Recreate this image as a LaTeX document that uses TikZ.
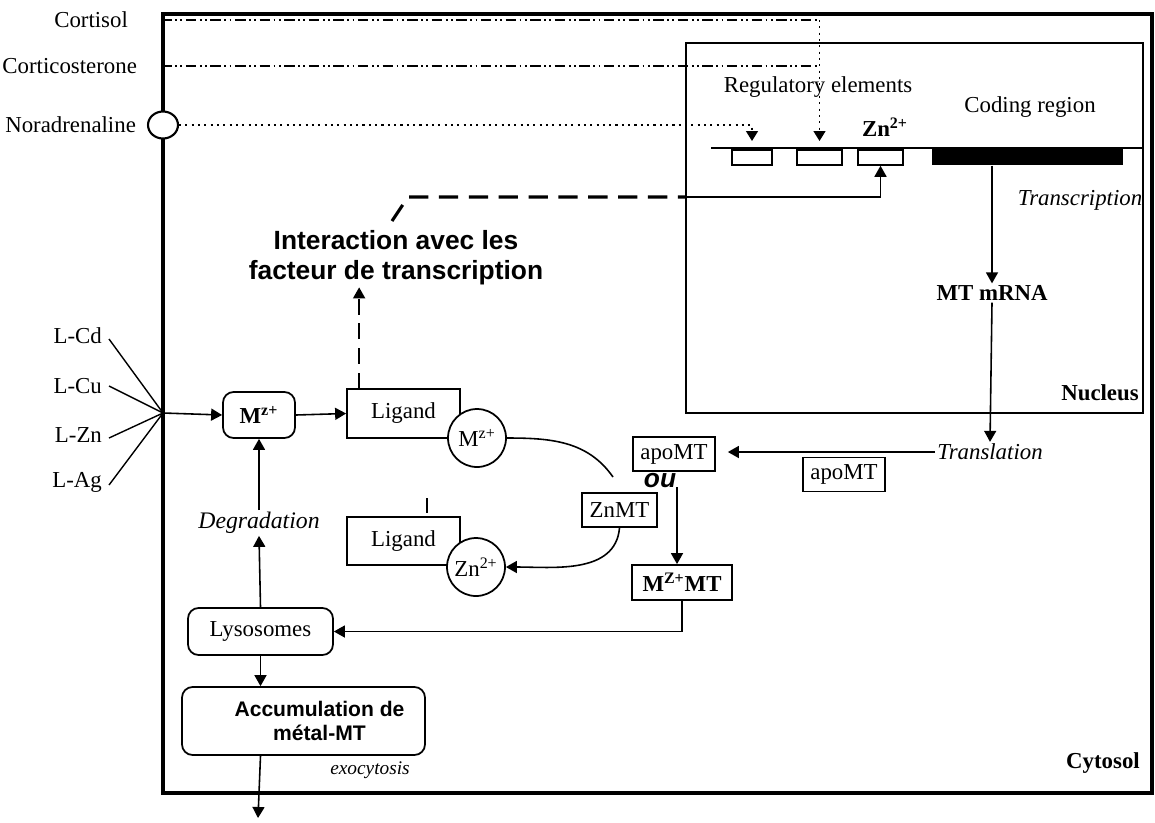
\documentclass[tikz,border=0pt]{standalone}
\usepackage{fontspec}
\setmainfont{Liberation Serif}
\setsansfont{Liberation Sans}
\usetikzlibrary{arrows.meta, positioning, shapes.geometric, calc}
\colorlet{colTrait}{black}
\tikzset{
  boiteBase/.style={
    draw=colTrait, line width=1pt, fill=white, inner sep=2pt, align=center
  },
  boiteArrondie/.style={boiteBase, rounded corners=6pt},
  boiteLigand/.style={boiteBase, minimum width=2.26cm, minimum height=0.97cm},
  boiteMT/.style={boiteBase, minimum height=0.68cm},
  cercleIon/.style={circle, draw=colTrait, line width=1pt, fill=white,
    minimum size=1.16cm, inner sep=0pt},
  elemReg/.style={draw=colTrait, line width=1pt, fill=white, minimum height=0.3cm,
    inner sep=0pt, anchor=north},
  fleche/.style={-{Triangle[length=2.2mm, width=2.4mm]}, line width=0.9pt, colTrait},
  flechePointillee/.style={-{Triangle[length=2.2mm, width=2.4mm]}, line width=0.9pt, colTrait,
    dash pattern=on 9pt off 5pt},
  traitHormone/.style={thick, colTrait,
    dash pattern=on 6pt off 2pt on 1pt off 2pt on 1pt off 2pt},
  traitPointille/.style={thick, colTrait, dash pattern=on 1.2pt off 2.4pt},
  tiretsEpais/.style={line width=1.8pt, colTrait, dash pattern=on 11pt off 6pt},
  etiquette/.style={inner sep=1pt},
  etiquetteIt/.style={inner sep=1pt, font=\fontsize{13}{15}\selectfont\itshape},
  etiquetteGras/.style={inner sep=1pt, font=\fontsize{13}{15}\selectfont\bfseries},
  etiquetteFr/.style={inner sep=1pt, align=center,
    font=\fontsize{15}{17}\selectfont\sffamily\bfseries},
}

\begin{document}
\begin{tikzpicture}[x=0.02cm, y=-0.02cm, font=\fontsize{13}{15}\selectfont]
  \useasboundingbox (0,0) rectangle (1155,822);

  % cellule, noyau et recepteur
  \node[draw=colTrait, line width=2.2pt, minimum width=19.78cm, minimum height=15.58cm, inner sep=0pt] (cellule) at (657.5,403.5) {};
  \node[draw=colTrait, line width=1.1pt, minimum width=9.14cm, minimum height=7.4cm, inner sep=0pt] (noyau) at (914.5,228) {};
  \node[ellipse, draw=colTrait, line width=1.2pt, fill=white, minimum width=0.6cm, minimum height=0.54cm, inner sep=0pt] (recepteur) at (163,125) {};

  % hormones
  \node[etiquette, anchor=east] (cortisol) at (130,20) {Cortisol};
  \node[etiquette, anchor=east] (corticosterone) at (139,66) {Corticosterone};
  \node[etiquette, anchor=east] (noradrenaline) at (138,125) {Noradrenaline};

  % gene MT
  \draw[line width=1.5pt] (711,148) -- (1143,148);
  \node[elemReg, minimum width=0.8cm] (reg1) at (752,149) {};
  \node[elemReg, minimum width=0.9cm] (reg2) at (819.5,149) {};
  \node[elemReg, minimum width=0.9cm] (reg3) at (880.5,149) {};
  \node[fill=colTrait, anchor=north, minimum width=3.82cm, minimum height=0.32cm, inner sep=0pt] (codage) at (1027.5,149) {};
  \node[etiquette] (regulation) at (818,87) {Regulatory elements};
  \node[etiquette] (regionCodante) at (1030,107) {Coding region};
  \node[etiquetteGras] (znNoyau) at (885,127) {Zn\textsuperscript{2+}};
  \node[etiquetteIt] (transcription) at (1080,200) {Transcription};
  \node[etiquetteGras] (arnm) at (992,293) {MT mRNA};
  \node[etiquetteGras] (nucleus) at (1100,393) {Nucleus};
  \node[etiquetteIt] (traduction) at (990,452) {Translation};

  \draw[traitHormone] (cortisol.east -| cellule.west) -- (cortisol.east -| reg2.north);
  \draw[traitHormone] (corticosterone.east -| cellule.west) -- (corticosterone.east -| reg2.north);
  \draw[traitPointille, -{Triangle[length=2mm, width=2.4mm]}, shorten >=1.6mm] (cortisol.east -| reg2.north) -- (reg2.north);
  \draw[traitPointille, -{Triangle[length=2mm, width=2.4mm]}, shorten >=1.6mm] (recepteur.east) -| (reg1.north);

  \draw[fleche] (arnm.north |- codage.south) -- (arnm.north);
  \draw[fleche] (arnm.south) -- (traduction.north);

  % ligands et metal
  \coordinate (entreeL) at (163,413);
  \node[etiquette, anchor=east] (lcd) at (104,336) {L-Cd};
  \node[etiquette, anchor=east] (lcu) at (104,386) {L-Cu};
  \node[etiquette, anchor=east] (lzn) at (104,435) {L-Zn};
  \node[etiquette, anchor=east] (lag) at (104,482) {L-Ag};
  \draw[thick] ([xshift=0.1cm, yshift=-0.06cm]lcd.east) -- (entreeL);
  \draw[thick] ([xshift=0.1cm]lcu.east) -- (entreeL);
  \draw[thick] ([xshift=0.1cm, yshift=-0.06cm]lzn.east) -- (entreeL);
  \draw[thick] ([xshift=0.1cm, yshift=-0.06cm]lag.east) -- (entreeL);

  \node[boiteArrondie, minimum width=1.44cm, minimum height=0.92cm, font=\fontsize{13}{15}\selectfont\bfseries] (metal) at (259,415) {M\textsuperscript{z+}};
  \node[boiteLigand] (ligand) at (403.5,413.5) {Ligand};
  \node[cercleIon] (cercleM) at (477,438) {M\textsuperscript{z+}};
  \node[boiteLigand] (ligandZn) at (403.5,541) {Ligand};
  \node[cercleIon] (cercleZn) at (476,567) {Zn\textsuperscript{2+}};
  \draw[thick] ([xshift=0.47cm, yshift=0.06cm]ligandZn.north) -- ++(0,-15);

  \draw[fleche] (entreeL) -- (metal.west);
  \draw[fleche] (metal.east) -- (ligand.west);

  % facteurs de transcription
  \node[etiquetteFr] (interaction) at (396,258) {Interaction avec les\\facteur de transcription};
  \coordinate (departInteraction) at (392,221);
  \coordinate (coudeInteraction) at (408,197);
  \draw[tiretsEpais] (departInteraction) -- (coudeInteraction) -- (coudeInteraction -| noyau.west);
  \draw[fleche] (coudeInteraction -| noyau.west) -| (reg3.south);
  \draw[flechePointillee] ([xshift=0.26cm]ligand.north west) -- ([xshift=0.26cm]ligand.north west |- interaction.south);

  % metallothioneines
  \node[boiteMT, minimum width=1.64cm] (apoA) at (674,454) {apoMT};
  \node[boiteMT, minimum width=1.64cm] (apoB) at (844,474.5) {apoMT};
  \node[boiteMT, minimum width=1.5cm] (znmt) at (619.5,510) {ZnMT};
  \node[boiteMT, minimum width=2cm, minimum height=0.7cm, font=\fontsize{13}{15}\selectfont\bfseries] (mzmt) at (682,582.5) {M\textsuperscript{Z+}MT};
  \node[inner sep=1pt, font=\fontsize{15}{17}\selectfont\sffamily\bfseries\itshape] (ou) at (660,481) {ou};
  \coordinate (ouBas) at (677,487);
  \coordinate (finCourbe) at (613,477);

  \draw[fleche, shorten >=0.24cm] (traduction.west) -- (traduction.west -| apoA.east);
  \draw[fleche] (ouBas) -- (ouBas |- mzmt.north);
  \draw[line width=0.9pt] (cercleM.east) to[out=0, in=125] (finCourbe);
  \draw[fleche] (znmt.south) to[out=-95, in=0] (cercleZn.east);

  % degradation et exocytose
  \node[etiquetteIt, font=\fontsize{13.5}{15}\selectfont\itshape] (degradation) at (259,523) {Degradation};
  \node[boiteArrondie, minimum width=2.9cm, minimum height=0.94cm] (lyso) at (260.5,631.5) {Lysosomes};
  \node[boiteArrondie, minimum width=4.86cm, minimum height=1.36cm, font=\fontsize{12}{14}\selectfont\sffamily\bfseries] (accum) at (303.5,721) {\hspace*{0.64cm}Accumulation de\\\hspace*{0.64cm}métal-MT};
  \node[etiquetteIt, font=\fontsize{11}{13}\selectfont\itshape] (exocytose) at (370,770) {exocytosis};
  \node[etiquetteGras] (cytosol) at (1103,763) {Cytosol};
  \coordinate (sortie) at (258,818);

  \draw[fleche] (degradation.north) -- (metal.south);
  \draw[fleche] (lyso.north) -- (degradation.south);
  \draw[fleche] (lyso.south) -- (accum.north -| lyso.south);
  \draw[fleche] (accum.south -| lyso.south) -- (sortie);
  \draw[fleche] (mzmt.south) |- (lyso.east);
\end{tikzpicture}
\end{document}
